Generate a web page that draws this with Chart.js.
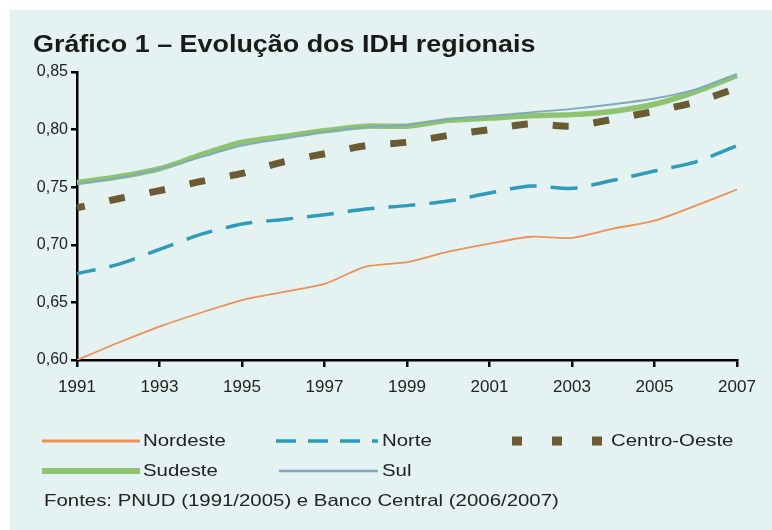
<!DOCTYPE html>
<html>
<head>
<meta charset="utf-8">
<script src="https://cdn.jsdelivr.net/npm/chart.js@4.4.1/dist/chart.umd.min.js"></script>
<style>
  body { margin: 0; background: #ffffff; }
  #panel { position: absolute; left: 10px; top: 10px; width: 762px; height: 520px; background: #e5f2f2; }
</style>
</head>
<body>
<div id="panel"><canvas id="idh-chart"></canvas></div>
<script>
// IDH by region, 1991-2007
const years = ["1991", "1992", "1993", "1994", "1995", "1996", "1997", "1998", "1999",
  "2000", "2001", "2002", "2003", "2004", "2005", "2006", "2007"];

const nordeste    = [0.600, 0.615, 0.629, 0.641, 0.652, 0.659, 0.666, 0.681, 0.685, 0.694, 0.701, 0.707, 0.706, 0.714, 0.721, 0.734, 0.748];
const norte       = [0.675, 0.683, 0.696, 0.709, 0.718, 0.722, 0.726, 0.731, 0.734, 0.738, 0.745, 0.751, 0.749, 0.756, 0.764, 0.772, 0.786];
const centroOeste = [0.732, 0.740, 0.747, 0.755, 0.762, 0.772, 0.779, 0.786, 0.789, 0.795, 0.800, 0.805, 0.803, 0.809, 0.816, 0.824, 0.836];
const sudeste     = [0.754, 0.759, 0.766, 0.778, 0.789, 0.794, 0.799, 0.803, 0.803, 0.808, 0.810, 0.812, 0.813, 0.816, 0.822, 0.833, 0.847];
const sul         = [0.753, 0.758, 0.766, 0.776, 0.786, 0.792, 0.798, 0.802, 0.804, 0.809, 0.812, 0.815, 0.818, 0.822, 0.827, 0.835, 0.848];

const yTicks = [0.60, 0.65, 0.70, 0.75, 0.80, 0.85];

const titleText = "Gráfico 1 – Evolução dos IDH regionais";
const sourceText = "Fontes: PNUD (1991/2005) e Banco Central (2006/2007)";

const FONT = "'Liberation Sans', Arial, sans-serif";

// the original text is a bit wider than Arial, so it gets stretched sideways
function wideText(ctx, text, x, y, stretch) {
  ctx.save();
  ctx.translate(x, y);
  ctx.scale(stretch, 1);
  ctx.fillText(text, 0, 0);
  ctx.restore();
}

// legend drawn by hand, laid out like the original (two rows)
const legendLayout = {
  "Nordeste":     { x: 32,  y: 431, len: 98,  textX: 133, width: 3 },
  "Norte":        { x: 266, y: 431, len: 102, textX: 372, width: 3.5, dash: [20, 12] },
  "Centro-Oeste": { x: 502, y: 431, len: 91,  textX: 601, width: 9, dash: [10, 30] },
  "Sudeste":      { x: 32,  y: 461, len: 98,  textX: 133, width: 6 },
  "Sul":          { x: 269, y: 461, len: 99,  textX: 372, width: 2.5 }
};

const handText = {
  id: "handText",
  afterDraw(chart) {
    const ctx = chart.ctx;
    ctx.save();
    ctx.textBaseline = "middle";

    // title
    ctx.fillStyle = "#1a1a1a";
    ctx.font = "bold 23px " + FONT;
    wideText(ctx, titleText, 23, 36, 1.17);

    // legend
    ctx.font = "17px " + FONT;
    ctx.fillStyle = "#222";
    chart.data.datasets.forEach((ds) => {
      const spot = legendLayout[ds.label];
      if (!spot) return;
      ctx.strokeStyle = ds.borderColor;
      ctx.lineWidth = spot.width;
      ctx.lineCap = "butt";
      ctx.setLineDash(spot.dash || []);
      ctx.beginPath();
      ctx.moveTo(spot.x, spot.y);
      ctx.lineTo(spot.x + spot.len, spot.y);
      ctx.stroke();
      wideText(ctx, ds.label, spot.textX, spot.y, 1.2);
    });
    ctx.setLineDash([]);

    // source line
    wideText(ctx, sourceText, 34, 491, 1.2);
    ctx.restore();
  }
};

const ctx = document.getElementById("idh-chart").getContext("2d");

const chart = new Chart(ctx, {
  type: "line",
  data: {
    labels: years,
    datasets: [
      {
        label: "Nordeste",
        data: nordeste,
        borderColor: "#ee9055",
        borderWidth: 1.8,
        order: 5
      },
      {
        label: "Norte",
        data: norte,
        borderColor: "#2e9bb8",
        borderWidth: 3.5,
        borderDash: [27, 14],
        borderDashOffset: 8,
        order: 4
      },
      {
        label: "Centro-Oeste",
        data: centroOeste,
        borderColor: "#6b5b33",
        borderWidth: 7,
        borderDash: [16, 25],
        borderDashOffset: 8,
        order: 3
      },
      {
        label: "Sudeste",
        data: sudeste,
        borderColor: "#8ec370",
        borderWidth: 5.5,
        order: 2
      },
      {
        label: "Sul",
        data: sul,
        borderColor: "#7fa8c2",
        borderWidth: 1.8,
        order: 1
      }
    ]
  },
  options: {
    responsive: true,
    maintainAspectRatio: false,
    animation: false,
    elements: {
      point: { radius: 0 },
      line: { tension: 0.25, borderCapStyle: "butt" }
    },
    layout: {
      padding: { left: 23, right: 35, top: 62, bottom: 130 }
    },
    scales: {
      x: {
        offset: false,
        afterFit: (scale) => { scale.height = 40; },
        grid: {
          drawOnChartArea: false,
          drawTicks: true,
          tickLength: 7,
          lineWidth: 2.5,
          tickColor: (c) => (c.index % 2 === 0 ? "#000" : "rgba(0,0,0,0)")
        },
        border: { display: true, color: "#000", width: 2.5 },
        ticks: {
          autoSkip: false,
          maxRotation: 0,
          padding: 10,
          color: "#222",
          font: { family: FONT, size: 17 },
          callback: (v, i) => (i % 2 === 0 ? years[i] : "")
        }
      },
      y: {
        min: 0.60,
        max: 0.85,
        afterFit: (scale) => { scale.width = 44; },
        afterBuildTicks: (scale) => { scale.ticks = yTicks.map((v) => ({ value: v })); },
        grid: {
          drawOnChartArea: false,
          drawTicks: true,
          tickLength: 6,
          lineWidth: 2.5,
          tickColor: "#000"
        },
        border: { display: true, color: "#000", width: 2.5 },
        ticks: {
          padding: 3,
          color: "#222",
          font: { family: FONT, size: 16 },
          callback: (v) => v.toFixed(2).replace(".", ",")
        }
      }
    },
    plugins: {
      legend: { display: false },
      tooltip: { enabled: false },
      title: { display: false }
    }
  },
  plugins: [handText]
});
</script>
</body>
</html>
